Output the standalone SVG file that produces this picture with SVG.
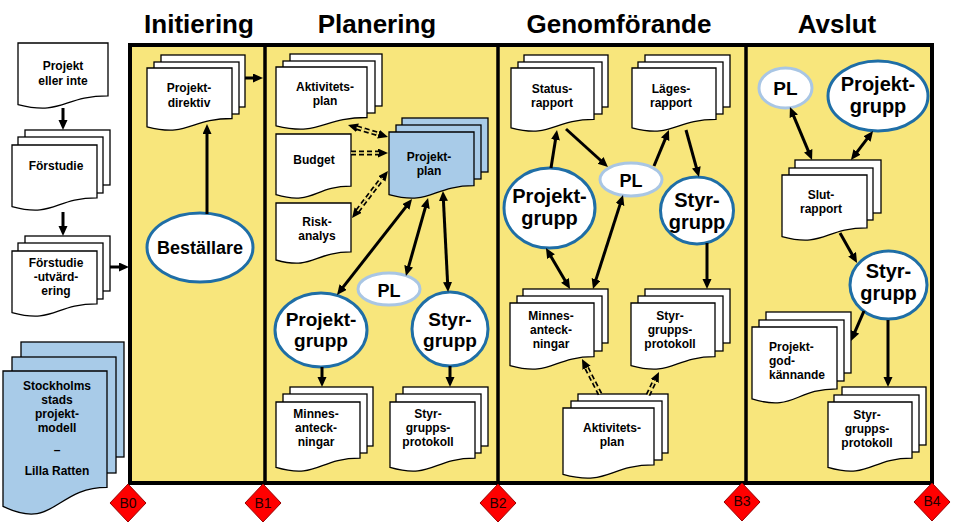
<svg xmlns="http://www.w3.org/2000/svg" width="960" height="528" viewBox="0 0 960 528">
<defs>
<style>
.doc{fill:#fff;stroke:#000;stroke-width:1.3}
.bdoc{fill:#a8cbe8;stroke:#000;stroke-width:1.3}
.t{font-family:"Liberation Sans",Arial,sans-serif;font-weight:bold;font-size:12px;text-anchor:middle;fill:#000}
.tl{text-anchor:start}
.h{font-size:26px}
.et{font-size:19px}
.el{fill:#fff;stroke:#1f6ea6;stroke-width:3}
.pl{fill:#fff;stroke:#a9c6e4;stroke-width:3}
.arr{stroke:#000;stroke-width:3;fill:none;marker-end:url(#ah)}
.dbl{marker-start:url(#ah)}
.dsh{stroke:#000;stroke-width:5;fill:none;stroke-dasharray:5 3;marker-end:url(#ah)}
.dshi{stroke:#f8e67c;stroke-width:1.6;fill:none;stroke-dasharray:5 3}
.dia{fill:#f00;stroke:#900;stroke-width:1}
.dl{font-family:"Liberation Sans",Arial,sans-serif;font-size:14px;text-anchor:middle;fill:#200}
</style>
<marker id="ah" markerUnits="userSpaceOnUse" markerWidth="11" markerHeight="10" refX="1" refY="4.5" orient="auto-start-reverse">
<path d="M0,0 L10,4.5 L0,9 Z" fill="#000"/>
</marker>
</defs>
<rect width="960" height="528" fill="#fff"/>

<g id="headers">
<text class="t h" x="199" y="33">Initiering</text>
<text class="t h" x="377" y="33">Planering</text>
<text class="t h" x="619" y="33">Genomförande</text>
<text class="t h" x="837" y="33">Avslut</text>
</g>

<g id="frame">
<rect x="130" y="45" width="802" height="438" fill="#f8e67c" stroke="#000" stroke-width="4"/>
<line x1="265" y1="45" x2="265" y2="483" stroke="#000" stroke-width="3.5"/>
<line x1="498" y1="45" x2="498" y2="483" stroke="#000" stroke-width="3.5"/>
<line x1="746" y1="45" x2="746" y2="483" stroke="#000" stroke-width="3.5"/>
</g>

<g id="doc-projekt-eller-inte">
<path class="doc" d="M18,43 H108 V95.9 C63,95.9 63,116.1 18,104.6 Z"/>
<text class="t" x="63" y="70">Projekt</text>
<text class="t" x="63" y="85">eller inte</text>
</g>

<g id="doc-forstudie">
<rect class="doc" x="25" y="130" width="85" height="55"/>
<rect class="doc" x="18" y="137" width="85" height="56"/>
<path class="doc" d="M12,145 H97 V197.9 C54.5,197.9 54.5,218.1 12,206.6 Z"/>
<text class="t" x="56" y="170">Förstudie</text>
</g>

<g id="doc-forstudie-utvardering">
<rect class="doc" x="25" y="236" width="85" height="55"/>
<rect class="doc" x="18" y="243" width="85" height="56"/>
<path class="doc" d="M12,251 H97 V303.9 C54.5,303.9 54.5,324.1 12,312.6 Z"/>
<text class="t" x="56" y="267">Förstudie</text>
<text class="t" x="56" y="281">-utvärd-</text>
<text class="t" x="56" y="295">ering</text>
</g>

<g id="doc-lilla-ratten">
<rect class="bdoc" x="21" y="342" width="103" height="115"/>
<rect class="bdoc" x="12" y="357" width="104" height="116"/>
<path class="bdoc" d="M3,371 H107 V487.3 C55,487.3 55,531.5 3,506.4 Z"/>
<text class="t" x="57" y="390">Stockholms</text>
<text class="t" x="57" y="404">stads</text>
<text class="t" x="57" y="418">projekt-</text>
<text class="t" x="57" y="432">modell</text>
<text class="t" x="57" y="454">–</text>
<text class="t" x="57" y="475">Lilla Ratten</text>
</g>

<g id="doc-projektdirektiv">
<rect class="doc" x="161" y="55" width="84" height="52"/>
<rect class="doc" x="154" y="62" width="85" height="52"/>
<path class="doc" d="M147,68 H232 V118.5 C189.5,118.5 189.5,137.7 147,126.8 Z"/>
<text class="t" x="189" y="92">Projekt-</text>
<text class="t" x="189" y="107">direktiv</text>
</g>

<g id="bestallare">
<ellipse class="el" cx="200" cy="247.5" rx="53" ry="34.5"/>
<text class="t" x="200" y="254" style="font-size:18px">Beställare</text>
</g>

<g id="doc-aktivitetsplan-1">
<rect class="doc" x="290" y="54" width="92" height="52"/>
<rect class="doc" x="283" y="61" width="92" height="52"/>
<path class="doc" d="M276,67 H367 V117.5 C321.5,117.5 321.5,136.7 276,125.8 Z"/>
<text class="t" x="325" y="91">Aktivitets-</text>
<text class="t" x="325" y="105">plan</text>
</g>

<g id="doc-budget">
<path class="doc" d="M276,134 H351 V186.1 C313.5,186.1 313.5,206 276,194.7 Z"/>
<text class="t" x="314" y="164">Budget</text>
</g>

<g id="doc-riskanalys">
<path class="doc" d="M276,203 H351 V251.9 C313.5,251.9 313.5,270.5 276,260 Z"/>
<text class="t" x="317" y="226">Risk-</text>
<text class="t" x="317" y="240">analys</text>
</g>

<g id="doc-projektplan">
<rect class="bdoc" x="402" y="118" width="86" height="54"/>
<rect class="bdoc" x="396" y="125" width="85" height="54"/>
<path class="bdoc" d="M389,132 H474 V185.7 C431.5,185.7 431.5,206.2 389,194.6 Z"/>
<text class="t" x="429" y="161">Projekt-</text>
<text class="t" x="429" y="175">plan</text>
</g>

<g id="pl-1">
<ellipse class="pl" cx="389" cy="289" rx="31" ry="16"/>
<text class="t" x="389" y="297" style="font-size:18px">PL</text>
</g>

<g id="projektgrupp-1">
<ellipse class="el" cx="321" cy="330" rx="46" ry="37"/>
<text class="t et" x="321" y="326">Projekt-</text>
<text class="t et" x="321" y="347">grupp</text>
</g>

<g id="styrgrupp-1">
<ellipse class="el" cx="450" cy="329" rx="38" ry="37"/>
<text class="t et" x="450" y="326">Styr-</text>
<text class="t et" x="450" y="347">grupp</text>
</g>

<g id="doc-minnes-1">
<rect class="doc" x="290" y="387" width="83" height="59"/>
<rect class="doc" x="283" y="394" width="84" height="59"/>
<path class="doc" d="M276,402 H360 V458.1 C318,458.1 318,479.5 276,467.4 Z"/>
<text class="t" x="316" y="418">Minnes-</text>
<text class="t" x="316" y="432">anteck-</text>
<text class="t" x="316" y="446">ningar</text>
</g>

<g id="doc-styrprotokoll-1">
<rect class="doc" x="403" y="387" width="85" height="59"/>
<rect class="doc" x="396" y="394" width="85" height="59"/>
<path class="doc" d="M390,402 H475 V458.1 C432.5,458.1 432.5,479.5 390,467.4 Z"/>
<text class="t" x="428" y="418">Styr-</text>
<text class="t" x="428" y="432">grupps-</text>
<text class="t" x="428" y="446">protokoll</text>
</g>

<g id="doc-statusrapport">
<rect class="doc" x="524" y="55" width="84" height="52"/>
<rect class="doc" x="518" y="62" width="84" height="52"/>
<path class="doc" d="M511,68 H594 V119.3 C552.5,119.3 552.5,138.8 511,127.8 Z"/>
<text class="t" x="552" y="93">Status-</text>
<text class="t" x="552" y="107">rapport</text>
</g>

<g id="doc-lagesrapport">
<rect class="doc" x="645" y="55" width="85" height="52"/>
<rect class="doc" x="638" y="62" width="85" height="52"/>
<path class="doc" d="M632,68 H716 V119.3 C674,119.3 674,138.8 632,127.8 Z"/>
<text class="t" x="671" y="93">Läges-</text>
<text class="t" x="671" y="107">rapport</text>
</g>

<g id="pl-2">
<ellipse class="pl" cx="631" cy="179.5" rx="31" ry="16.5"/>
<text class="t" x="631" y="187" style="font-size:18px">PL</text>
</g>

<g id="projektgrupp-2">
<ellipse class="el" cx="549.5" cy="208" rx="45.5" ry="40"/>
<text class="t" x="549.5" y="203" style="font-size:20px">Projekt-</text>
<text class="t" x="549.5" y="225" style="font-size:20px">grupp</text>
</g>

<g id="styrgrupp-2">
<ellipse class="el" cx="697" cy="210.5" rx="36.5" ry="33.5"/>
<text class="t" x="697" y="207" style="font-size:20px">Styr-</text>
<text class="t" x="697" y="229" style="font-size:20px">grupp</text>
</g>

<g id="doc-minnes-2">
<rect class="doc" x="523" y="289" width="85" height="54"/>
<rect class="doc" x="517" y="296" width="85" height="55"/>
<path class="doc" d="M510,303 H594 V356.7 C552,356.7 552,377.2 510,365.6 Z"/>
<text class="t" x="551" y="320">Minnes-</text>
<text class="t" x="551" y="334">anteck-</text>
<text class="t" x="551" y="348">ningar</text>
</g>

<g id="doc-styrprotokoll-2">
<rect class="doc" x="645" y="289" width="85" height="54"/>
<rect class="doc" x="638" y="296" width="85" height="55"/>
<path class="doc" d="M631,303 H715 V356.7 C673,356.7 673,377.2 631,365.6 Z"/>
<text class="t" x="670" y="320">Styr-</text>
<text class="t" x="670" y="334">grupps-</text>
<text class="t" x="670" y="348">protokoll</text>
</g>

<g id="doc-aktivitetsplan-2">
<rect class="doc" x="578" y="394" width="90" height="59"/>
<rect class="doc" x="571" y="401" width="91" height="59"/>
<path class="doc" d="M563,408 H654 V464.9 C608.5,464.9 608.5,486.6 563,474.3 Z"/>
<text class="t" x="612" y="432">Aktivitets-</text>
<text class="t" x="612" y="446">plan</text>
</g>

<g id="pl-3">
<ellipse class="pl" cx="785.5" cy="88" rx="26.5" ry="20"/>
<text class="t" x="785.5" y="95" style="font-size:19px">PL</text>
</g>

<g id="projektgrupp-3">
<ellipse class="el" cx="878" cy="96" rx="50" ry="35"/>
<text class="t" x="878" y="91" style="font-size:20px">Projekt-</text>
<text class="t" x="878" y="113" style="font-size:20px">grupp</text>
</g>

<g id="doc-slutrapport">
<rect class="doc" x="795" y="160" width="86" height="53"/>
<rect class="doc" x="789" y="168" width="84" height="52"/>
<path class="doc" d="M782,175 H867 V227.9 C824.5,227.9 824.5,248.1 782,236.6 Z"/>
<text class="t" x="821" y="199">Slut-</text>
<text class="t" x="821" y="213">rapport</text>
</g>

<g id="styrgrupp-3">
<ellipse class="el" cx="888.5" cy="285" rx="38.5" ry="34"/>
<text class="t" x="888.5" y="278" style="font-size:20px">Styr-</text>
<text class="t" x="888.5" y="300" style="font-size:20px">grupp</text>
</g>

<g id="doc-projektgodkannande">
<rect class="doc" x="766" y="312" width="85" height="61"/>
<rect class="doc" x="759" y="320" width="85" height="61"/>
<path class="doc" d="M752,327 H837 V388.8 C794.5,388.8 794.5,412.2 752,398.9 Z"/>
<text class="t tl" x="769" y="351">Projekt-</text>
<text class="t tl" x="769" y="365">god-</text>
<text class="t tl" x="769" y="379">kännande</text>
</g>

<g id="doc-styrprotokoll-3">
<rect class="doc" x="842" y="387" width="84" height="58"/>
<rect class="doc" x="834" y="395" width="85" height="57"/>
<path class="doc" d="M828,402 H912 V458.1 C870,458.1 870,479.5 828,467.4 Z"/>
<text class="t" x="867" y="419">Styr-</text>
<text class="t" x="867" y="433">grupps-</text>
<text class="t" x="867" y="447">protokoll</text>
</g>

<g id="connectors">
<line class="arr" x1="63" y1="108" x2="63" y2="121"/>
<line class="arr" x1="63" y1="212" x2="63" y2="227"/>
<line class="arr" x1="110" y1="267" x2="120" y2="267"/>
<line class="arr" x1="207" y1="214" x2="207" y2="133"/>
<line class="arr" x1="245" y1="78" x2="254" y2="78"/>
<line class="dsh dbl" x1="356.6" y1="127.6" x2="379.4" y2="134.4"/>
<line class="dshi" x1="356.6" y1="127.6" x2="379.4" y2="134.4"/>
<line class="dsh" x1="351" y1="153" x2="379" y2="153"/>
<line class="dshi" x1="351" y1="153" x2="379" y2="153"/>
<line class="dsh dbl" x1="357.5" y1="210.9" x2="382.5" y2="178.1"/>
<line class="dshi" x1="357.5" y1="210.9" x2="382.5" y2="178.1"/>
<line class="arr dbl" x1="406.5" y1="206.1" x2="342.5" y2="287.9"/>
<line class="arr dbl" x1="425.6" y1="206.7" x2="408.4" y2="267.3"/>
<line class="arr dbl" x1="443.4" y1="200" x2="447.6" y2="283"/>
<line class="arr" x1="322" y1="367" x2="322" y2="378"/>
<line class="arr" x1="450" y1="366" x2="450" y2="378"/>
<line class="arr" x1="551" y1="168" x2="555.6" y2="138.9"/>
<line class="arr" x1="566" y1="129" x2="601.3" y2="161"/>
<line class="arr" x1="654" y1="166" x2="665.5" y2="138.3"/>
<line class="arr" x1="686" y1="130" x2="696.6" y2="168.3"/>
<line class="arr dbl" x1="550.5" y1="255.8" x2="565.5" y2="281.2"/>
<line class="arr dbl" x1="595.7" y1="280.4" x2="620.3" y2="203.6"/>
<line class="arr" x1="707" y1="243" x2="707" y2="280"/>
<line class="dsh" x1="600" y1="394" x2="586.1" y2="367"/>
<line class="dshi" x1="600" y1="394" x2="586.1" y2="367"/>
<line class="dsh" x1="648" y1="395" x2="655.1" y2="380.1"/>
<line class="dshi" x1="648" y1="395" x2="655.1" y2="380.1"/>
<line class="arr dbl" x1="793.4" y1="115.3" x2="808.6" y2="151.7"/>
<line class="arr dbl" x1="867.6" y1="138.2" x2="856.4" y2="152.8"/>
<line class="arr" x1="840" y1="233" x2="852.6" y2="255.2"/>
<line class="arr" x1="864" y1="311" x2="854.6" y2="332.7"/>
<line class="arr" x1="888" y1="320" x2="888" y2="378"/>
</g>

<g id="b0"><polygon class="dia" points="128,484 146,503 128,522 110,503"/><text class="dl" x="128" y="508">B0</text></g>
<g id="b1"><polygon class="dia" points="263,484 281,503 263,522 245,503"/><text class="dl" x="263" y="508">B1</text></g>
<g id="b2"><polygon class="dia" points="498,484 516,503 498,522 480,503"/><text class="dl" x="498" y="508">B2</text></g>
<g id="b3"><polygon class="dia" points="742,483 760,502 742,521 724,502"/><text class="dl" x="742" y="506">B3</text></g>
<g id="b4"><polygon class="dia" points="932,483 950,502 932,521 914,502"/><text class="dl" x="932" y="506">B4</text></g>
</svg>
